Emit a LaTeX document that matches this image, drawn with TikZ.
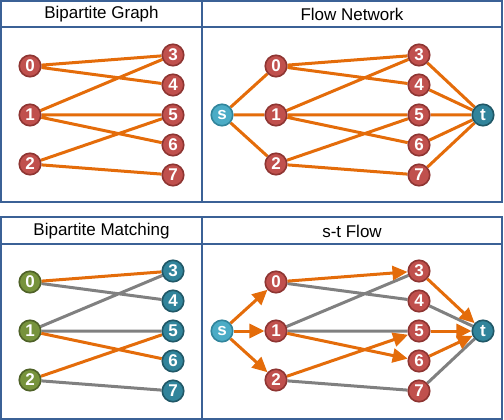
\documentclass[tikz,border=0pt]{standalone}
\usepackage{fontspec}
\setmainfont{Liberation Sans}
\usetikzlibrary{arrows.meta}
\definecolor{nred}{HTML}{C0504D}
\definecolor{nredd}{HTML}{8E3532}
\definecolor{eorange}{HTML}{E46C0A}
\definecolor{egray}{HTML}{808080}
\definecolor{sblue}{HTML}{4BACC6}
\definecolor{sblued}{HTML}{31859C}
\definecolor{tteal}{HTML}{31849B}
\definecolor{ttealdd}{HTML}{205867}
\definecolor{ngreen}{HTML}{77933C}
\definecolor{ngreend}{HTML}{4F6228}
\definecolor{pborder}{HTML}{3B6196}
\pgfdeclarelayer{bg}
\pgfsetlayers{bg,main}
\tikzset{
  vnode/.style={circle,minimum size=21.5pt,inner sep=0pt,line width=1.6pt,text=white,
    font=\fontsize{17}{17}\selectfont\bfseries},
  rednode/.style={vnode,fill=nred,draw=nredd},
  greennode/.style={vnode,fill=ngreen,draw=ngreend},
  tealnode/.style={vnode,fill=tteal,draw=ttealdd},
  snode/.style={vnode,fill=sblue,draw=sblued},
  oedge/.style={draw=eorange,line width=3pt},
  gedge/.style={draw=egray,line width=3pt},
  aedge/.style={oedge,-{Triangle[length=15pt,width=14pt]}},
  panel/.style={draw=pborder,line width=2pt},
  title/.style={font=\fontsize{17}{17}\selectfont,inner sep=0pt}
}
\begin{document}
\begin{tikzpicture}[x=1pt,y=-1pt]
\useasboundingbox (0,0) rectangle (504,420);
% panels
\draw[panel] (1,1) rectangle (502,202);
\draw[panel] (1,27) -- (502,27);
\draw[panel] (202,1) -- (202,202);
\draw[panel] (1,217) rectangle (502,419);
\draw[panel] (1,244) -- (502,244);
\draw[panel] (202,217) -- (202,419);
\node[title] (t1) at (101.5,14.5) {Bipartite Graph};
\node[title] (t2) at (352,14.5) {Flow Network};
\node[title] (t3) at (101.5,231) {Bipartite Matching};
\node[title] (t4) at (352,231) {s-t Flow};
% panel A: bipartite graph
\node[rednode] (a0) at (30,66) {0};
\node[rednode] (a1) at (30,115) {1};
\node[rednode] (a2) at (30,164) {2};
\node[rednode] (a3) at (173,55) {3};
\node[rednode] (a4) at (173,85) {4};
\node[rednode] (a5) at (173,115) {5};
\node[rednode] (a6) at (173,145) {6};
\node[rednode] (a7) at (173,175) {7};
\begin{pgfonlayer}{bg}
\draw[oedge] (a0)--(a3) (a0)--(a4) (a1)--(a3) (a1)--(a5) (a1)--(a6) (a2)--(a5) (a2)--(a7);
\end{pgfonlayer}
% panel B: flow network
\node[snode] (bs) at (222,115) {s};
\node[rednode] (b0) at (276,66) {0};
\node[rednode] (b1) at (276,115) {1};
\node[rednode] (b2) at (276,164) {2};
\node[rednode] (b3) at (419,55) {3};
\node[rednode] (b4) at (419,85) {4};
\node[rednode] (b5) at (419,115) {5};
\node[rednode] (b6) at (419,145) {6};
\node[rednode] (b7) at (419,175) {7};
\node[tealnode] (bt) at (483,115) {t};
\begin{pgfonlayer}{bg}
\draw[oedge] (bs)--(b0) (bs)--(b1) (bs)--(b2)
  (b0)--(b3) (b0)--(b4) (b1)--(b3) (b1)--(b5) (b1)--(b6) (b2)--(b5) (b2)--(b7)
  (b3)--(bt) (b4)--(bt) (b5)--(bt) (b6)--(bt) (b7)--(bt);
\end{pgfonlayer}
% panel C: bipartite matching
\node[greennode] (c0) at (30,282) {0};
\node[greennode] (c1) at (30,331) {1};
\node[greennode] (c2) at (30,380) {2};
\node[tealnode] (c3) at (173,271) {3};
\node[tealnode] (c4) at (173,301) {4};
\node[tealnode] (c5) at (173,331) {5};
\node[tealnode] (c6) at (173,361) {6};
\node[tealnode] (c7) at (173,391) {7};
\begin{pgfonlayer}{bg}
\draw[gedge] (c0)--(c4) (c1)--(c3) (c1)--(c5) (c2)--(c7);
\draw[oedge] (c0)--(c3) (c1)--(c6) (c2)--(c5);
\end{pgfonlayer}
% panel D: s-t flow
\node[snode] (ds) at (222,331) {s};
\node[rednode] (d0) at (276,282) {0};
\node[rednode] (d1) at (276,331) {1};
\node[rednode] (d2) at (276,380) {2};
\node[rednode] (d3) at (419,271) {3};
\node[rednode] (d4) at (419,301) {4};
\node[rednode] (d5) at (419,331) {5};
\node[rednode] (d6) at (419,361) {6};
\node[rednode] (d7) at (419,391) {7};
\node[tealnode] (dt) at (483,331) {t};
\begin{pgfonlayer}{bg}
\draw[gedge] (d0)--(d4) (d1)--(d3) (d1)--(d5) (d2)--(d7) (d4)--(dt) (d7)--(dt);
\end{pgfonlayer}
\draw[aedge] (ds)--(d0);
\draw[aedge] (ds)--(d1);
\draw[aedge] (ds)--(d2);
\draw[aedge] (d0)--(d3);
\draw[aedge] (d1)--(d6);
\draw[aedge] (d2)--(d5);
\draw[aedge] (d3)--(dt);
\draw[aedge] (d5)--(dt);
\draw[aedge] (d6)--(dt);
\end{tikzpicture}
\end{document}
